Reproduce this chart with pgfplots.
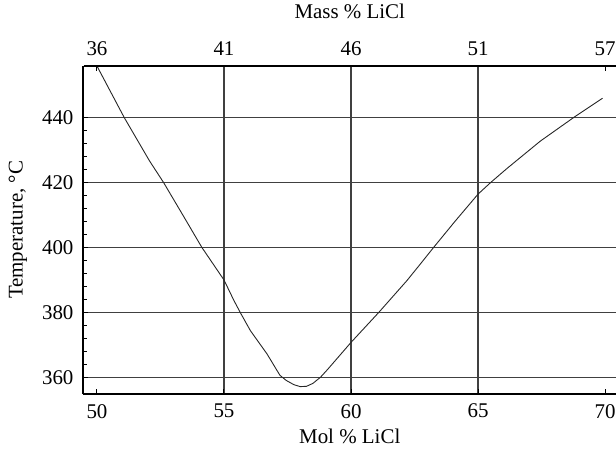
\documentclass[border=0pt]{standalone}
\usepackage{fontspec}
\setmainfont{Liberation Serif}
\usepackage{pgfplots}
\pgfplotsset{compat=1.18}

\pgfplotsset{
  common/.style={
    scale only axis, width=266.25bp, height=164.2bp,
    at={(0,0)}, anchor=south west,
    xmin=49.47, xmax=70.43, ymin=354.9, ymax=455.9,
    axis line style={-, line width=1bp, black},
    tick align=inside,
    major tick length=2.5bp, minor tick length=2bp,
    tick style={black, line width=0.5bp},
    /pgf/number format/assume math mode=true,
    tick label style={font=\fontsize{10.5}{12}\selectfont},
    label style={font=\fontsize{10.5}{12}\selectfont},
  },
}

\begin{document}
\begin{tikzpicture}
  % main axis: mol % (bottom), temperature (left)
  \begin{axis}[common,
      axis x line*=bottom, axis y line*=left,
      xtick={55,60,65},
      extra x ticks={50,70},
      extra x tick style={grid=none},
      ytick={360,380,400,420,440},
      minor y tick num=4,
      grid=major,
      major grid style={black!75, line width=0.6bp},
      xlabel={Mol \% LiCl},
      ylabel={Temperature, °C},
      xlabel style={at={(axis description cs:0.5,-0.128)}, anchor=center},
      ylabel style={at={(axis description cs:-0.123,0.5)}, anchor=center, rotate=0},
      xticklabel style={yshift=-1.5bp},
      yticklabel style={xshift=-1.5bp},
    ]
    \addplot[black!85, line width=0.45bp] coordinates {
      (50,455.8) (51.07,440) (52.07,426.6) (52.62,420) (53.4,409.7)
      (54.13,400) (55,390) (55.39,383.7) (55.64,380) (56.04,374.4)
      (56.69,367.3) (57.2,360.7) (57.45,359.1) (57.75,357.8) (58,357.2)
      (58.25,357.3) (58.5,358.2) (58.8,360.1) (59.08,362.5) (60,370.8)
      (61.09,380) (62.2,389.8) (62.8,395.6) (63.25,400) (64.1,408.1)
      (65,416.4) (65.5,420) (66.14,424.3) (67.45,432.7) (68.77,440)
      (69.9,445.9)
    };
  \end{axis}
  % top axis: mass % LiCl
  \begin{axis}[common,
      axis x line*=top, hide y axis,
      xtick={50,70},
      xticklabels={36,57},
      extra x ticks={55,60,65},
      extra x tick labels={41,46,51},
      extra x tick style={major tick length=0pt},
      xlabel={Mass \% LiCl},
      xlabel style={at={(axis description cs:0.5,1.164)}, anchor=center},
      xticklabel style={yshift=1.5bp},
    ]
    \addplot[draw=none] coordinates {(50,400) (70,400)};
  \end{axis}
  \pgfresetboundingbox
  \path[use as bounding box] (-41.75bp,-27.5bp) rectangle (266.25bp,197.05bp);
\end{tikzpicture}
\end{document}
